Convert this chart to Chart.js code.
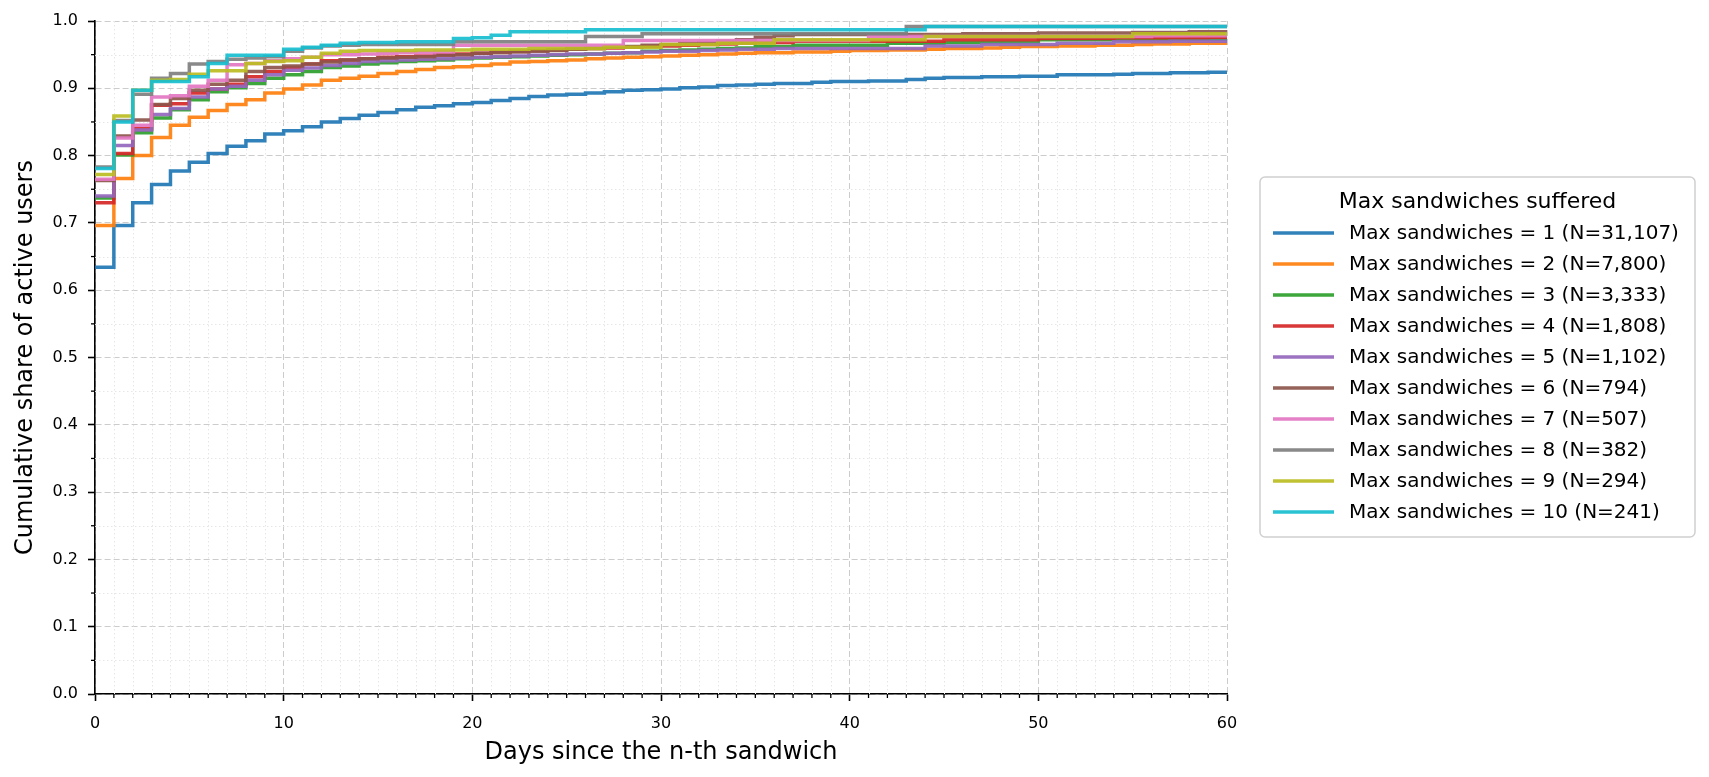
<!DOCTYPE html>
<html>
<head>
<meta charset="utf-8">
<title>Cumulative share of active users</title>
<script src="https://cdn.jsdelivr.net/npm/chart.js@4.4.1/dist/chart.umd.min.js"></script>
<style>
  html, body { margin: 0; padding: 0; background: #fff; }
  canvas { display: block; }
</style>
</head>
<body>
<canvas id="cdfChart" width="1709" height="777"></canvas>
<script>
// days since the n-th sandwich
const days = [0, 1, 2, 3, 4, 5, 6, 7, 8, 9, 10, 11, 12, 13, 14, 15, 16, 17, 18, 19, 20,
  21, 22, 23, 24, 25, 26, 27, 28, 29, 30, 31, 32, 33, 34, 35, 36, 37, 38, 39, 40,
  41, 42, 43, 44, 45, 46, 47, 48, 49, 50, 51, 52, 53, 54, 55, 56, 57, 58, 59, 60];

const maxSandwiches = [1, 2, 3, 4, 5, 6, 7, 8, 9, 10];
const groupSizes = [31107, 7800, 3333, 1808, 1102, 794, 507, 382, 294, 241];

// cumulative share per day, one array per group
const share1 = [0.634, 0.696, 0.730, 0.757, 0.777, 0.790, 0.803, 0.814, 0.822, 0.832,
  0.837, 0.843, 0.850, 0.855, 0.860, 0.864, 0.868, 0.872, 0.874, 0.877,
  0.879, 0.882, 0.885, 0.888, 0.890, 0.891, 0.893, 0.895, 0.897, 0.898,
  0.899, 0.901, 0.902, 0.904, 0.905, 0.906, 0.907, 0.907, 0.909, 0.910,
  0.910, 0.911, 0.911, 0.913, 0.915, 0.916, 0.916, 0.917, 0.917, 0.918,
  0.918, 0.920, 0.920, 0.920, 0.921, 0.922, 0.922, 0.923, 0.923, 0.924,
  0.925];
const share2 = [0.696, 0.766, 0.800, 0.827, 0.845, 0.857, 0.867, 0.876, 0.883, 0.893,
  0.899, 0.905, 0.912, 0.915, 0.918, 0.922, 0.925, 0.928, 0.931, 0.932,
  0.934, 0.936, 0.939, 0.940, 0.941, 0.942, 0.944, 0.945, 0.946, 0.947,
  0.948, 0.949, 0.950, 0.951, 0.952, 0.953, 0.953, 0.954, 0.954, 0.955,
  0.956, 0.956, 0.957, 0.957, 0.958, 0.959, 0.959, 0.960, 0.961, 0.962,
  0.962, 0.963, 0.963, 0.964, 0.964, 0.965, 0.966, 0.966, 0.967, 0.967,
  0.968];
const share3 = [0.737, 0.801, 0.834, 0.856, 0.868, 0.883, 0.895, 0.901, 0.907, 0.915,
  0.920, 0.925, 0.931, 0.933, 0.936, 0.938, 0.940, 0.941, 0.942, 0.944,
  0.945, 0.946, 0.947, 0.948, 0.949, 0.950, 0.951, 0.952, 0.953, 0.955,
  0.956, 0.957, 0.958, 0.959, 0.960, 0.962, 0.962, 0.964, 0.964, 0.964,
  0.964, 0.964, 0.967, 0.967, 0.967, 0.968, 0.968, 0.968, 0.968, 0.968,
  0.972, 0.972, 0.972, 0.972, 0.972, 0.972, 0.972, 0.972, 0.973, 0.973,
  0.973];
const share4 = [0.730, 0.803, 0.840, 0.875, 0.877, 0.893, 0.899, 0.906, 0.917, 0.925,
  0.931, 0.936, 0.941, 0.942, 0.944, 0.946, 0.947, 0.948, 0.950, 0.951,
  0.952, 0.954, 0.955, 0.956, 0.957, 0.958, 0.959, 0.960, 0.961, 0.962,
  0.963, 0.964, 0.965, 0.966, 0.967, 0.968, 0.968, 0.970, 0.970, 0.970,
  0.970, 0.970, 0.970, 0.970, 0.970, 0.972, 0.972, 0.972, 0.972, 0.972,
  0.974, 0.974, 0.974, 0.974, 0.975, 0.975, 0.975, 0.975, 0.975, 0.976,
  0.976];
const share5 = [0.740, 0.815, 0.838, 0.861, 0.870, 0.887, 0.899, 0.903, 0.912, 0.920,
  0.927, 0.930, 0.934, 0.937, 0.940, 0.941, 0.942, 0.943, 0.944, 0.945,
  0.946, 0.947, 0.948, 0.949, 0.950, 0.951, 0.951, 0.952, 0.953, 0.954,
  0.955, 0.955, 0.956, 0.957, 0.958, 0.958, 0.959, 0.959, 0.959, 0.959,
  0.959, 0.959, 0.959, 0.959, 0.963, 0.963, 0.963, 0.965, 0.965, 0.965,
  0.965, 0.967, 0.967, 0.967, 0.969, 0.969, 0.969, 0.970, 0.970, 0.970,
  0.971];
const share6 = [0.763, 0.829, 0.853, 0.876, 0.885, 0.897, 0.906, 0.912, 0.925, 0.931,
  0.933, 0.936, 0.939, 0.942, 0.944, 0.945, 0.946, 0.947, 0.949, 0.950,
  0.952, 0.953, 0.954, 0.955, 0.956, 0.958, 0.959, 0.961, 0.962, 0.964,
  0.965, 0.967, 0.968, 0.970, 0.972, 0.976, 0.978, 0.980, 0.980, 0.980,
  0.980, 0.980, 0.980, 0.980, 0.980, 0.980, 0.981, 0.981, 0.981, 0.981,
  0.982, 0.982, 0.982, 0.982, 0.982, 0.983, 0.983, 0.983, 0.984, 0.984,
  0.984];
const share7 = [0.765, 0.826, 0.845, 0.887, 0.889, 0.903, 0.912, 0.935, 0.937, 0.941,
  0.944, 0.946, 0.950, 0.950, 0.951, 0.952, 0.953, 0.953, 0.954, 0.964,
  0.964, 0.964, 0.964, 0.964, 0.964, 0.964, 0.964, 0.964, 0.971, 0.971,
  0.971, 0.971, 0.971, 0.971, 0.971, 0.971, 0.971, 0.971, 0.971, 0.971,
  0.971, 0.977, 0.977, 0.977, 0.977, 0.977, 0.977, 0.977, 0.977, 0.977,
  0.977, 0.977, 0.977, 0.977, 0.977, 0.977, 0.978, 0.978, 0.978, 0.978,
  0.978];
const share8 = [0.783, 0.852, 0.891, 0.915, 0.922, 0.936, 0.940, 0.943, 0.945, 0.947,
  0.955, 0.960, 0.963, 0.964, 0.965, 0.965, 0.965, 0.965, 0.965, 0.969,
  0.969, 0.969, 0.969, 0.969, 0.969, 0.969, 0.977, 0.977, 0.977, 0.981,
  0.981, 0.981, 0.981, 0.981, 0.981, 0.981, 0.981, 0.981, 0.981, 0.981,
  0.981, 0.981, 0.981, 0.992, 0.992, 0.992, 0.992, 0.992, 0.992, 0.992,
  0.992, 0.992, 0.992, 0.992, 0.992, 0.992, 0.992, 0.992, 0.992, 0.992,
  0.992];
const share9 = [0.772, 0.859, 0.897, 0.912, 0.913, 0.921, 0.926, 0.926, 0.937, 0.940,
  0.941, 0.946, 0.952, 0.955, 0.956, 0.956, 0.956, 0.957, 0.957, 0.957,
  0.958, 0.958, 0.958, 0.959, 0.959, 0.959, 0.959, 0.961, 0.961, 0.961,
  0.965, 0.965, 0.965, 0.967, 0.967, 0.967, 0.972, 0.972, 0.972, 0.972,
  0.972, 0.972, 0.972, 0.972, 0.977, 0.977, 0.977, 0.977, 0.977, 0.977,
  0.977, 0.977, 0.977, 0.977, 0.977, 0.981, 0.981, 0.981, 0.981, 0.981,
  0.981];
const share10 = [0.781, 0.850, 0.897, 0.910, 0.910, 0.917, 0.937, 0.949, 0.949, 0.949,
  0.958, 0.961, 0.964, 0.967, 0.968, 0.968, 0.969, 0.969, 0.969, 0.974,
  0.975, 0.979, 0.984, 0.984, 0.984, 0.984, 0.987, 0.987, 0.987, 0.987,
  0.987, 0.987, 0.987, 0.987, 0.987, 0.987, 0.987, 0.987, 0.987, 0.987,
  0.987, 0.987, 0.987, 0.987, 0.992, 0.992, 0.992, 0.992, 0.992, 0.992,
  0.992, 0.992, 0.992, 0.992, 0.992, 0.992, 0.992, 0.992, 0.992, 0.992,
  0.992];

const allShares = [share1, share2, share3, share4, share5, share6, share7, share8, share9, share10];

// minor tick positions on the y axis
const minorShares = [0.05, 0.15, 0.25, 0.35, 0.45, 0.55, 0.65, 0.75, 0.85, 0.95];

// tab10 colours, a bit see-through like the original
const lineColors = [
  'rgba(31,119,180,0.92)', 'rgba(255,127,14,0.92)', 'rgba(44,160,44,0.92)',
  'rgba(214,39,40,0.92)', 'rgba(148,103,189,0.92)', 'rgba(140,86,75,0.92)',
  'rgba(227,119,194,0.92)', 'rgba(127,127,127,0.92)', 'rgba(188,189,34,0.92)',
  'rgba(23,190,207,0.92)'
];

Chart.defaults.font.family = "'DejaVu Sans', 'Liberation Sans', sans-serif";
Chart.defaults.color = '#000';

// dotted minor grid + short minor ticks (chart.js only has one grid per axis)
const minorGrid = {
  id: 'minorGrid',
  beforeDatasetsDraw(chart) {
    const { ctx, chartArea: a, scales: { x, y } } = chart;
    ctx.save();
    ctx.lineWidth = 1;
    ctx.strokeStyle = '#e6e6e6';
    ctx.setLineDash([1.5, 2.5]);
    days.filter(d => d % 10 !== 0).forEach(d => {
      const px = Math.round(x.getPixelForValue(d)) + 0.5;
      ctx.beginPath(); ctx.moveTo(px, a.top); ctx.lineTo(px, a.bottom); ctx.stroke();
    });
    minorShares.forEach(v => {
      const py = Math.round(y.getPixelForValue(v)) + 0.5;
      ctx.beginPath(); ctx.moveTo(a.left, py); ctx.lineTo(a.right, py); ctx.stroke();
    });
    // minor ticks
    ctx.setLineDash([]);
    ctx.strokeStyle = '#000';
    ctx.lineWidth = 1.3;
    days.filter(d => d % 10 !== 0).forEach(d => {
      const px = x.getPixelForValue(d);
      ctx.beginPath(); ctx.moveTo(px, a.bottom); ctx.lineTo(px, a.bottom + 4); ctx.stroke();
    });
    minorShares.forEach(v => {
      const py = y.getPixelForValue(v);
      ctx.beginPath(); ctx.moveTo(a.left - 4, py); ctx.lineTo(a.left, py); ctx.stroke();
    });
    ctx.restore();
  }
};

// framed legend to the right of the plot, like matplotlib's bbox legend
const boxLegend = {
  id: 'boxLegend',
  afterDraw(chart) {
    const { ctx } = chart;
    const left = 1260, top = 177, width = 435, height = 360;
    ctx.save();
    ctx.beginPath();
    ctx.roundRect(left, top, width, height, 5);
    ctx.fillStyle = 'rgba(255,255,255,0.85)';
    ctx.fill();
    ctx.lineWidth = 1.5;
    ctx.strokeStyle = '#d0d0d0';
    ctx.stroke();

    ctx.fillStyle = '#000';
    ctx.textBaseline = 'middle';
    ctx.textAlign = 'center';
    ctx.font = "22px 'DejaVu Sans'";
    ctx.fillText('Max sandwiches suffered', left + width / 2, top + 25);

    ctx.textAlign = 'left';
    ctx.font = "20px 'DejaVu Sans'";
    chart.data.datasets.forEach((ds, i) => {
      const yy = top + 56 + i * 31;
      ctx.strokeStyle = ds.borderColor;
      ctx.lineWidth = 3.5;
      ctx.beginPath(); ctx.moveTo(left + 13, yy); ctx.lineTo(left + 74, yy); ctx.stroke();
      ctx.fillText(ds.label, left + 89, yy + 1);
    });
    ctx.restore();
  }
};

const ctx = document.getElementById('cdfChart').getContext('2d');
new Chart(ctx, {
  type: 'line',
  data: {
    datasets: allShares.map((share, i) => ({
      label: 'Max sandwiches = ' + maxSandwiches[i] + ' (N=' + groupSizes[i].toLocaleString('en-US') + ')',
      data: days.map((d, j) => ({ x: d, y: share[j] })),
      borderColor: lineColors[i],
      backgroundColor: lineColors[i],
      borderWidth: 3.5,
      stepped: true,
      pointRadius: 0,
      fill: false,
      // later groups drawn on top
      order: 10 - i
    }))
  },
  options: {
    responsive: false,
    animation: false,
    devicePixelRatio: 1,
    layout: { padding: { left: 0, top: 21, right: 482, bottom: 0 } },
    plugins: {
      legend: { display: false },
      tooltip: { enabled: false }
    },
    scales: {
      x: {
        type: 'linear',
        min: 0,
        max: 60,
        ticks: { stepSize: 10, font: { size: 16 }, padding: 13, maxRotation: 0 },
        grid: { color: '#cccccc', lineWidth: 1, tickColor: '#000', tickLength: 7, tickWidth: 1.6 },
        border: { color: '#000', width: 1.6, dash: [6, 3] },
        title: {
          display: true,
          text: 'Days since the n-th sandwich',
          font: { size: 24 },
          padding: { top: 4, bottom: 10 }
        },
        afterFit: scale => { scale.height = 83; }
      },
      y: {
        min: 0,
        max: 1,
        ticks: {
          stepSize: 0.1,
          font: { size: 16 },
          padding: 10,
          callback: v => Number(v).toFixed(1)
        },
        grid: { color: '#cccccc', lineWidth: 1, tickColor: '#000', tickLength: 7, tickWidth: 1.6 },
        border: { color: '#000', width: 1.6, dash: [6, 3] },
        title: {
          display: true,
          text: 'Cumulative share of active users',
          font: { size: 24 },
          padding: { top: 11, bottom: 4 }
        },
        afterFit: scale => { scale.width = 95; }
      }
    }
  },
  plugins: [minorGrid, boxLegend]
});
</script>
</body>
</html>
